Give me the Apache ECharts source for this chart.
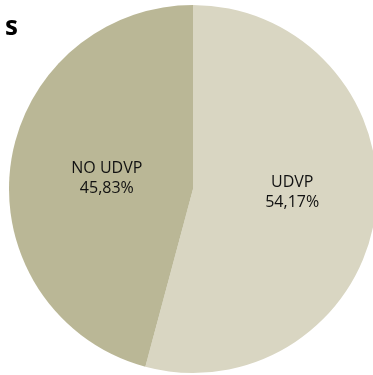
<!DOCTYPE html>
<html>
<head>
<meta charset="utf-8">
<script src="https://cdn.jsdelivr.net/npm/echarts@6/dist/echarts.min.js"></script>
<style>
  html, body { margin: 0; padding: 0; background: #fff; }
  #chart-container { width: 373px; height: 375px; }
</style>
</head>
<body>
<div id="chart-container"></div>
<script>
const categories = ["UDVP", "NO UDVP"];
const values = [54.17, 45.83];
const sliceColors = ["#D9D6C2", "#BAB796"];
const labelOffsets = [[5, -9], [8, 2]];

const chart = echarts.init(document.getElementById("chart-container"));

const option = {
  animation: false,
  title: {
    text: "s",
    left: 0,
    top: 10,
    textStyle: { fontFamily: "Open Sans", fontWeight: "bold", fontSize: 26, color: "#000" }
  },
  series: [{
    type: "pie",
    center: [193, 189],
    radius: 184,
    startAngle: 90,
    clockwise: true,
    silent: true,
    label: {
      show: true,
      position: "inside",
      fontFamily: "Open Sans",
      fontSize: 16,
      color: "#111",
      lineHeight: 20,
      align: "center",
      formatter: p => p.name + "\n" + p.value.toFixed(2).replace(".", ",") + "%"
    },
    labelLine: { show: false },
    data: categories.map((name, i) => ({
      name,
      value: values[i],
      itemStyle: { color: sliceColors[i] },
      label: { offset: labelOffsets[i] }
    }))
  }]
};

chart.setOption(option);
</script>
</body>
</html>
